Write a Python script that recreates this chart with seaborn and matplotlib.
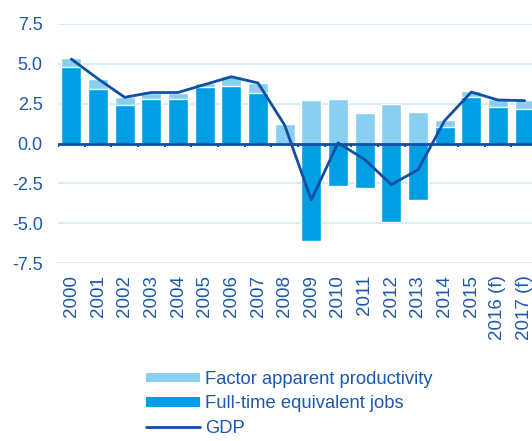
import matplotlib
matplotlib.use("Agg")
import matplotlib.pyplot as plt
import numpy as np
import pandas as pd
import seaborn as sns
from matplotlib.lines import Line2D
from matplotlib.patches import Patch

years = ["2000", "2001", "2002", "2003", "2004", "2005", "2006", "2007", "2008",
         "2009", "2010", "2011", "2012", "2013", "2014", "2015", "2016 (f)", "2017 (f)"]
jobs = [4.77, 3.44, 2.42, 2.81, 2.77, 3.52, 3.60, 3.15, 0.0,
        -6.10, -2.67, -2.79, -4.94, -3.56, 1.04, 2.90, 2.31, 2.19]
productivity = [0.58, 0.62, 0.50, 0.39, 0.42, 0.27, 0.63, 0.66, 1.23,
                2.75, 2.81, 1.90, 2.48, 2.00, 0.42, 0.41, 0.50, 0.56]
gdp = [5.30, 4.06, 2.90, 3.20, 3.20, 3.70, 4.19, 3.80, 1.15,
       -3.54, 0.04, -1.00, -2.58, -1.65, 1.44, 3.23, 2.73, 2.69]

DARK = "#009fe3"
LIGHT = "#89cff1"
NAVY = "#114fa3"
TEXT = "#1c58b0"
GRID = "#cdeaf8"

df = pd.DataFrame({"year": years, "jobs": jobs, "productivity": productivity, "gdp": gdp})
# light bar sits on top of positive jobs, starts at zero when jobs are negative
df["upper"] = df["jobs"].clip(lower=0) + df["productivity"]

sns.set_theme(style="white")
plt.rcParams["font.family"] = ["Liberation Sans", "DejaVu Sans"]

fig = plt.figure(figsize=(5.32, 4.41), dpi=100)
ax = fig.add_axes([58 / 532, 1 - 263 / 441, 480 / 532, 239 / 441])

sns.barplot(data=df, x="year", y="upper", color=LIGHT, width=0.75, saturation=1, ax=ax)
sns.barplot(data=df, x="year", y="jobs", color=DARK, width=0.75, saturation=1, ax=ax)
pos = np.arange(len(years))
sns.lineplot(x=pos, y=df["gdp"].values, color=NAVY, linewidth=2, ax=ax)

ax.set_xlim(-0.5, len(years) - 0.5)
ax.set_ylim(-7.5, 7.5)
ax.set_yticks([-7.5, -5.0, -2.5, 0.0, 2.5, 5.0, 7.5])
ax.set_yticklabels([f"{v:.1f}" for v in ax.get_yticks()])
ax.yaxis.grid(True, color=GRID, linewidth=1.2)
ax.set_axisbelow(True)
for s in ax.spines.values():
    s.set_visible(False)

ax.axhline(0, color=NAVY, linewidth=2, zorder=4)
ax.vlines(pos - 0.5, -0.25, 0, color=NAVY, linewidth=1.5, zorder=4)

ax.set_xticks(pos)
ax.set_xticklabels(years, rotation=90, va="top", ha="center")
ax.tick_params(axis="x", length=0, pad=8.5, labelsize=13.5, labelcolor=TEXT)
ax.tick_params(axis="y", length=0, pad=11, labelsize=13, labelcolor=TEXT)
ax.set_xlabel("")
ax.set_ylabel("")

handles = [
    Patch(facecolor=LIGHT, edgecolor="none", label="Factor apparent productivity"),
    Patch(facecolor=DARK, edgecolor="none", label="Full-time equivalent jobs"),
    Line2D([], [], color=NAVY, linewidth=2, label="GDP"),
]
fig.legend(handles=handles, loc="upper left", bbox_to_anchor=(146 / 532, 1 - 371 / 441),
           frameon=False, fontsize=13.2, handlelength=2.95, handleheight=0.45,
           handletextpad=0.27, labelspacing=0.4, borderpad=0, borderaxespad=0,
           labelcolor=TEXT)

fig.savefig("out.png", dpi=100)
